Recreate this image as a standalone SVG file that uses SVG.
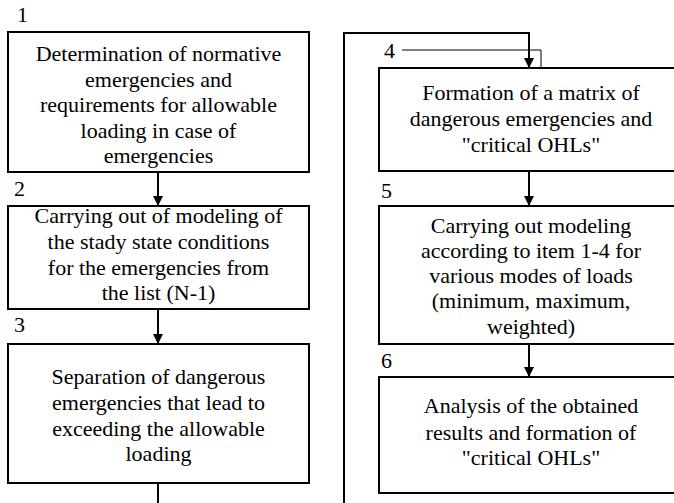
<svg xmlns="http://www.w3.org/2000/svg" width="674" height="503" viewBox="0 0 674 503">
<defs>
<marker id="ah" viewBox="0 0 10 10" refX="10" refY="5" markerWidth="10" markerHeight="10" markerUnits="userSpaceOnUse" orient="auto">
<path d="M0,0 L10,5 L0,10 Z" fill="#000"/>
</marker>
<style>
.box{fill:#fff;stroke:#000;stroke-width:2}
.c{fill:none;stroke:#000;stroke-width:2}
.thin{fill:none;stroke:#000;stroke-width:1}
</style>
</defs>
<rect width="674" height="503" fill="#fff"/>
<g id="connectors">
<line class="c" x1="158" y1="172" x2="158" y2="206" marker-end="url(#ah)"/>
<line class="c" x1="158" y1="309" x2="158" y2="344" marker-end="url(#ah)"/>
<line class="c" x1="158" y1="483" x2="158" y2="504"/>
<polyline class="c" points="344,504 344,33 529,33 529,68" marker-end="url(#ah)"/>
<polyline class="thin" points="402,50 541,50 541,68"/>
<line class="c" x1="529" y1="171" x2="529" y2="206" marker-end="url(#ah)"/>
<line class="c" x1="529" y1="344" x2="529" y2="377" marker-end="url(#ah)"/>
</g>
<g id="node1">
<text x="17" y="22" font-family="Liberation Serif" font-size="22">1</text>
<rect class="box" x="8" y="32" width="301" height="140"/>
<text x="158.5" y="61" font-family="Liberation Serif" font-size="22" text-anchor="middle">Determination of normative</text>
<text x="158.5" y="87" font-family="Liberation Serif" font-size="22" text-anchor="middle">emergencies and</text>
<text x="158.5" y="112" font-family="Liberation Serif" font-size="22" text-anchor="middle">requirements for allowable</text>
<text x="158.5" y="138" font-family="Liberation Serif" font-size="22" text-anchor="middle">loading in case of</text>
<text x="158.5" y="163" font-family="Liberation Serif" font-size="22" text-anchor="middle">emergencies</text>
</g>
<g id="node2">
<text x="14" y="196" font-family="Liberation Serif" font-size="22">2</text>
<rect class="box" x="8" y="206" width="301" height="103"/>
<text x="158.5" y="223" font-family="Liberation Serif" font-size="22" text-anchor="middle">Carrying out of modeling of</text>
<text x="158.5" y="249" font-family="Liberation Serif" font-size="22" text-anchor="middle">the stady state conditions</text>
<text x="158.5" y="275" font-family="Liberation Serif" font-size="22" text-anchor="middle">for the emergencies from</text>
<text x="158.5" y="300" font-family="Liberation Serif" font-size="22" text-anchor="middle">the list (N-1)</text>
</g>
<g id="node3">
<text x="14" y="332" font-family="Liberation Serif" font-size="22">3</text>
<rect class="box" x="8" y="344" width="301" height="139"/>
<text x="158.5" y="384" font-family="Liberation Serif" font-size="22" text-anchor="middle">Separation of dangerous</text>
<text x="158.5" y="410" font-family="Liberation Serif" font-size="22" text-anchor="middle">emergencies that lead to</text>
<text x="158.5" y="436" font-family="Liberation Serif" font-size="22" text-anchor="middle">exceeding the allowable</text>
<text x="158.5" y="461" font-family="Liberation Serif" font-size="22" text-anchor="middle">loading</text>
</g>
<g id="node4">
<text x="384" y="58" font-family="Liberation Serif" font-size="22">4</text>
<rect class="box" x="379" y="68" width="302" height="103"/>
<text x="531" y="100" font-family="Liberation Serif" font-size="22" text-anchor="middle">Formation of a matrix of</text>
<text x="531" y="126" font-family="Liberation Serif" font-size="22" text-anchor="middle">dangerous emergencies and</text>
<text x="531" y="152" font-family="Liberation Serif" font-size="22" text-anchor="middle">"critical OHLs"</text>
</g>
<g id="node5">
<text x="381" y="198" font-family="Liberation Serif" font-size="22">5</text>
<rect class="box" x="379" y="206" width="302" height="138"/>
<text x="531" y="233" font-family="Liberation Serif" font-size="22" text-anchor="middle">Carrying out modeling</text>
<text x="531" y="258" font-family="Liberation Serif" font-size="22" text-anchor="middle">according to item 1-4 for</text>
<text x="531" y="283" font-family="Liberation Serif" font-size="22" text-anchor="middle">various modes of loads</text>
<text x="531" y="308" font-family="Liberation Serif" font-size="22" text-anchor="middle">(minimum, maximum,</text>
<text x="531" y="334" font-family="Liberation Serif" font-size="22" text-anchor="middle">weighted)</text>
</g>
<g id="node6">
<text x="381" y="368" font-family="Liberation Serif" font-size="22">6</text>
<rect class="box" x="379" y="377" width="302" height="116"/>
<text x="531" y="413" font-family="Liberation Serif" font-size="22" text-anchor="middle">Analysis of the obtained</text>
<text x="531" y="440" font-family="Liberation Serif" font-size="22" text-anchor="middle">results and formation of</text>
<text x="531" y="465" font-family="Liberation Serif" font-size="22" text-anchor="middle">"critical OHLs"</text>
</g>
</svg>
